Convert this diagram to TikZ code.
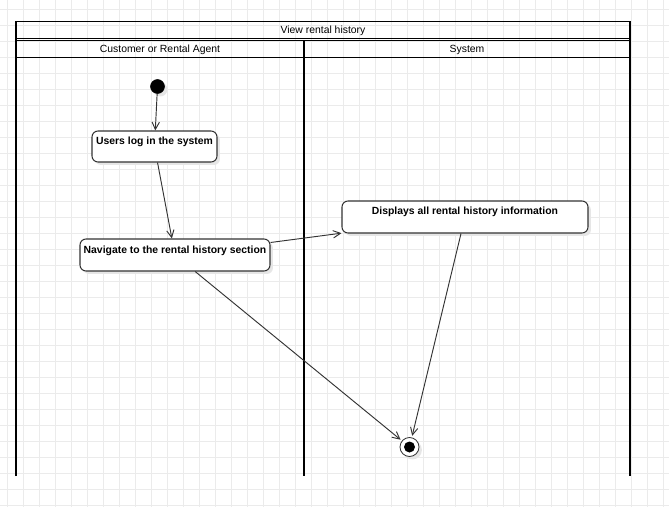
\documentclass[tikz,border=0pt]{standalone}
\usepackage{fontspec}
\setmainfont{Liberation Sans}
\usetikzlibrary{arrows.meta,shadows}
\definecolor{gridline}{HTML}{EBEBEB}
\definecolor{edge}{HTML}{333333}
\definecolor{shade}{HTML}{E6E6E6}

\begin{document}
\begin{tikzpicture}[x=0.75pt,y=-0.75pt,
  lane/.style={draw=black, line width=1.1pt},
  lanetext/.style={font=\fontsize{7.8pt}{9pt}\selectfont, inner sep=0pt, anchor=base},
  boxtext/.style={font=\bfseries\fontsize{7.8pt}{9pt}\selectfont, inner sep=0pt, anchor=base},
  softshadow/.style={drop shadow={shadow xshift=2.2pt, shadow yshift=-2.2pt, fill=shade, opacity=1}},
  actionbox/.style={draw=edge, fill=white, line width=0.8pt, rounded corners=4.5pt,
    inner sep=0pt, softshadow},
  initial/.style={circle, fill=black, draw=black, inner sep=0pt, minimum size=10.5pt, softshadow},
  finalring/.style={circle, fill=white, draw=edge, line width=0.6pt, inner sep=0pt, minimum size=14.25pt, softshadow},
  finalcore/.style={circle, fill=black, inner sep=0pt, minimum size=8.25pt},
  flow/.style={draw=edge, line width=0.7pt, -{Straight Barb[length=5.5pt,width=5.5pt]}}
]
% canvas and background grid
\useasboundingbox (0,0) rectangle (669,507);
\fill[white] (0,0) rectangle (669,507);
\foreach \i in {0,...,41}
  \draw[gridline, line width=0.75pt] ({7.3+16*\i},0) -- ({7.3+16*\i},507);
\foreach \j in {0,...,31}
  \draw[gridline, line width=0.75pt] (0,{9.3+16*\j}) -- (669,{9.3+16*\j});

% swimlane frame
\draw[lane] (16,476) -- (16,21.5) -- (630,21.5) -- (630,476);
\draw[lane] (16,38.3) -- (630,38.3);
\draw[lane] (16,40.7) -- (630,40.7);
\draw[lane] (16,57.5) -- (630,57.5);
\draw[lane] (304,40.7) -- (304,476);

\node[lanetext] (title) at (323,33.5) {View rental history};
\node[lanetext] (laneA) at (160,52.5) {Customer or Rental Agent};
\node[lanetext] (laneB) at (467,52.5) {System};

% activity nodes
\node[initial] (start) at (157.5,86.5) {};

\node[actionbox, minimum width=93.75pt, minimum height=23.25pt] (a1) at (154.5,146.5) {};
\node[boxtext] (a1t) at (154.5,144) {Users log in the system};

\node[actionbox, minimum width=142.5pt, minimum height=24pt] (a2) at (175,255) {};
\node[boxtext] (a2t) at (175,253) {Navigate to the rental history section};

\node[actionbox, minimum width=184.5pt, minimum height=24pt] (a3) at (465,217) {};
\node[boxtext] (a3t) at (465,214) {Displays all rental history information};

\node[finalring] (end) at (409.5,447) {};
\node[finalcore] (endcore) at (end) {};

% control flow
\draw[flow] (start) -- (a1);
\draw[flow] (a1) -- (a2);
\draw[flow] (a2) -- (a3);
\draw[flow, shorten >=1.2pt] (a2) -- (end);
\draw[flow, shorten >=1.2pt] (a3) -- (end);
\end{tikzpicture}
\end{document}
